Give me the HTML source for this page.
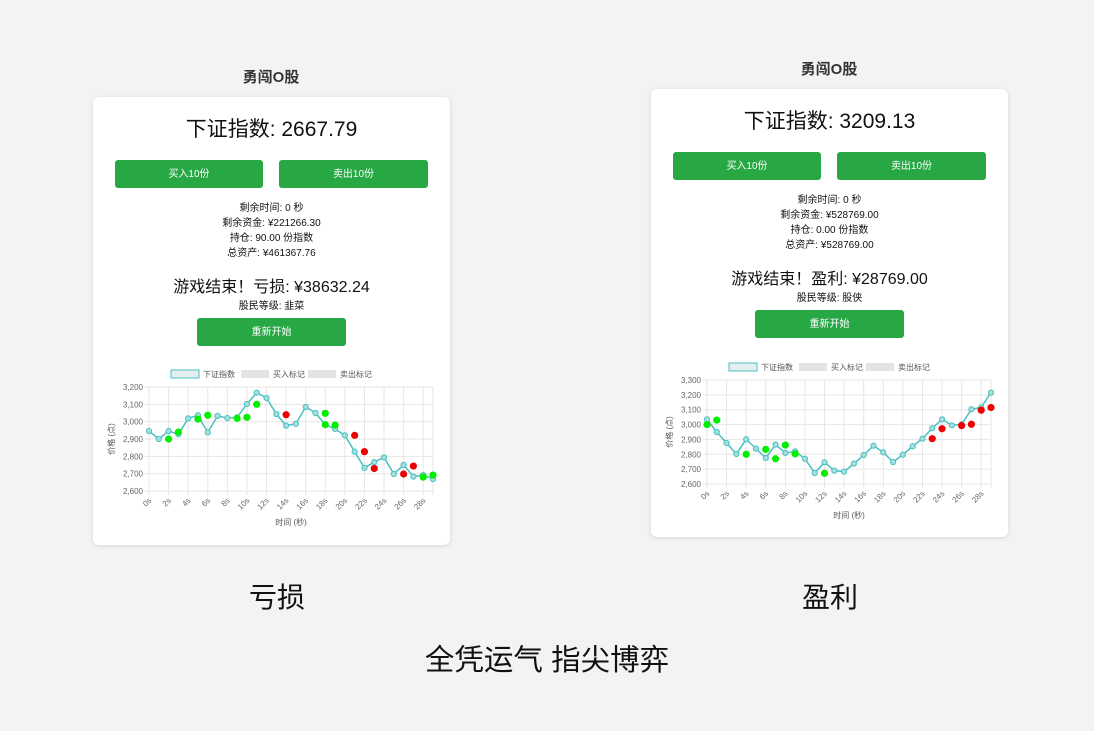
<!DOCTYPE html>
<html><head><meta charset="utf-8">
<style>
body{margin:0;width:1094px;height:731px;background:#f3f3f3;position:relative;overflow:hidden;font-family:"Liberation Sans","Noto Sans CJK SC",sans-serif;color:#111}
.abs{position:absolute}
.title{font-size:15px;font-weight:bold;color:#333;text-align:center;width:200px}
.card{position:absolute;width:357px;height:448px;background:#fff;border-radius:6px;box-shadow:0 1px 5px rgba(0,0,0,0.12)}
.card .c{position:absolute;left:0;width:357px;text-align:center}
.idx{font-size:21px;top:16px}
.btn{position:absolute;background:#28a745;color:#fff;font-size:10px;text-align:center;border-radius:3px;line-height:29px;height:28px}
.info{font-size:10px;line-height:15px;top:104px}
.res{font-size:16px;top:176px}
.lvl{font-size:10px;top:200px}
.cap{font-size:28px;text-align:center;width:200px}
svg text{font-family:"Liberation Sans","Noto Sans CJK SC",sans-serif}
</style></head><body>
<div class="abs title" style="left:171px;top:66px">勇闯O股</div>
<div class="abs title" style="left:729px;top:58px">勇闯O股</div>

<div class="card" id="cardL" style="left:93px;top:97px">
 <div class="c idx">下证指数: 2667.79</div>
 <div class="btn" style="left:22px;top:63px;width:148px">买入10份</div>
 <div class="btn" style="left:186px;top:63px;width:149px">卖出10份</div>
 <div class="c info">剩余时间: 0 秒<br>剩余资金: ¥221266.30<br>持仓: 90.00 份指数<br>总资产: ¥461367.76</div>
 <div class="c res">游戏结束！亏损: ¥38632.24</div>
 <div class="c lvl">股民等级: 韭菜</div>
 <div class="btn" style="left:104px;top:221px;width:149px">重新开始</div>
 <svg id="chartL" class="abs" style="left:0;top:0" width="357" height="448"></svg>
</div>

<div class="card" id="cardR" style="left:651px;top:89px">
 <div class="c idx">下证指数: 3209.13</div>
 <div class="btn" style="left:22px;top:63px;width:148px">买入10份</div>
 <div class="btn" style="left:186px;top:63px;width:149px">卖出10份</div>
 <div class="c info">剩余时间: 0 秒<br>剩余资金: ¥528769.00<br>持仓: 0.00 份指数<br>总资产: ¥528769.00</div>
 <div class="c res">游戏结束！盈利: ¥28769.00</div>
 <div class="c lvl">股民等级: 股侠</div>
 <div class="btn" style="left:104px;top:221px;width:149px">重新开始</div>
 <svg id="chartR" class="abs" style="left:0;top:0" width="357" height="448"></svg>
</div>

<div class="abs cap" style="left:177px;top:576px">亏损</div>
<div class="abs cap" style="left:730px;top:576px">盈利</div>
<div class="abs cap" style="left:347px;top:637px;width:400px;font-size:29.5px">全凭运气 指尖博弈</div>

<script>
const leftPrices=[2946,2900,2946,2927,3019,3037,2938,3033,3021,3025,3102,3167,3137,3044,2977,2988,3085,3050,2983,2958,2921,2827,2733,2767,2794,2698,2750,2683,2692,2669];
const leftBuyIdx=[2,3,5,6,9,10,11,18,18,19,28,29];
const leftBuyVal=[2900,2940,3015,3037,3019,3025,3100,3048,2983,2980,2680,2692];
const leftSellIdx=[14,21,22,23,26,27];
const leftSellVal=[3040,2921,2827,2730,2698,2744];
const leftYTicks=[2600,2700,2800,2900,3000,3100,3200];
const rightPrices=[3035,2950,2876,2802,2901,2838,2775,2865,2809,2820,2770,2674,2746,2690,2683,2737,2795,2858,2813,2748,2797,2854,2905,2975,3035,2995,3002,3103,3116,3215];
const rightBuyIdx=[0,1,4,6,7,8,9,12];
const rightBuyVal=[3000,3030,2800,2833,2770,2862,2803,2672];
const rightSellIdx=[23,24,26,27,28,29];
const rightSellVal=[2905,2972,2993,3002,3097,3115];
const rightYTicks=[2600,2700,2800,2900,3000,3100,3200,3300];

const NS='http://www.w3.org/2000/svg';
function mk(svg,tag,attrs,txt){const e=document.createElementNS(NS,tag);for(const k in attrs)e.setAttribute(k,attrs[k]);if(txt!==undefined)e.textContent=txt;svg.appendChild(e);return e;}
function draw(id,prices,yTicks,bIdx,bVal,sIdx,sVal,top){
 const svg=document.getElementById(id);
 const L=56,R=340,T=top,B=top+104;
 const n=prices.length;
 const yMin=yTicks[0],yMax=yTicks[yTicks.length-1];
 const xs=i=>L+(R-L)*i/(n-1);
 const ys=v=>B-(B-T)*(v-yMin)/(yMax-yMin);
 for(const t of yTicks){
  const g=mk(svg,'line',{x1:L-4,x2:R,y1:ys(t),y2:ys(t),stroke:'#e6e6e6','stroke-width':1});
  
  const lb=mk(svg,'text',{x:L-6,y:ys(t)+3,'font-size':8,fill:'#666','text-anchor':'end'},t.toLocaleString('en-US'));
  
 }
 for(let i=0;i<n;i++){
  if(i%2===0||i===n-1){
   const g=mk(svg,'line',{x1:xs(i),x2:xs(i),y1:T,y2:B+4,stroke:'#e6e6e6','stroke-width':1});
   
  }
  if(i%2===0){
   const lb=mk(svg,'text',{x:xs(i)+3,y:B+10,'font-size':8,fill:'#666','text-anchor':'end',transform:`rotate(-45 ${xs(i)+3} ${B+10})`},i+'s');
   
  }
 }
 const yt=mk(svg,'text',{x:21,y:(T+B)/2,'font-size':8,fill:'#555','text-anchor':'middle',transform:`rotate(-90 21 ${(T+B)/2})`},'价格 (点)');
 
 const xt=mk(svg,'text',{x:(L+R)/2,y:B+34,'font-size':8,fill:'#555','text-anchor':'middle'},'时间 (秒)');
 
 const lg=[['下证指数',78,'#4bc0c0'],['买入标记',148,null],['卖出标记',215,null]];
 for(const [t,x,c] of lg){
  const r=mk(svg,'rect',{x:x,y:T-17,width:28,height:8,fill:c?'#e4eeee':'#e4e4e4',stroke:c||'none','stroke-width':1});
  
  const lt=mk(svg,'text',{x:x+32,y:T-10,'font-size':8,fill:'#555'},t);
  
 }
 const pts=prices.map((v,i)=>xs(i)+','+ys(v)).join(' ');
 const pl=mk(svg,'polyline',{points:pts,fill:'none',stroke:'#4bc0c0','stroke-width':1.5});
 
 prices.forEach((v,i)=>{
  const c=mk(svg,'circle',{cx:xs(i),cy:ys(v),r:2.6,fill:'#a9dede',stroke:'#4bc0c0','stroke-width':1});
  
 });
 bIdx.forEach((i,k)=>{
  const c=mk(svg,'circle',{cx:xs(i),cy:ys(bVal[k]),r:3.6,fill:'#00ee00'});
  
 });
 sIdx.forEach((i,k)=>{
  const c=mk(svg,'circle',{cx:xs(i),cy:ys(sVal[k]),r:3.6,fill:'#ee0000'});
  
 });
}
draw('chartL',leftPrices,leftYTicks,leftBuyIdx,leftBuyVal,leftSellIdx,leftSellVal,290);
draw('chartR',rightPrices,rightYTicks,rightBuyIdx,rightBuyVal,rightSellIdx,rightSellVal,291);
</script>
</body></html>
